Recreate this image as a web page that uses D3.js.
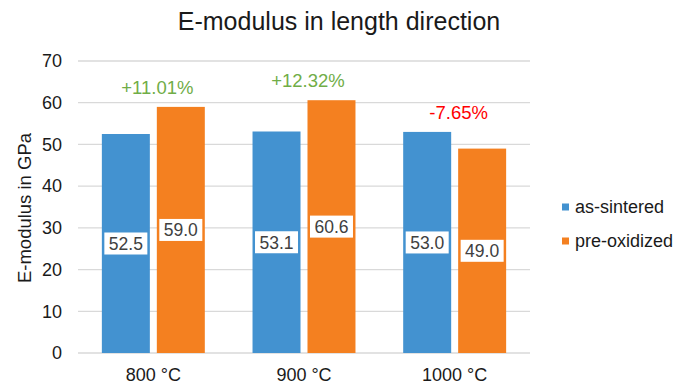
<!DOCTYPE html>
<html>
<head>
<meta charset="utf-8">
<script src="https://cdn.jsdelivr.net/npm/d3@7"></script>
<style>
  body { margin: 0; background: #fff; }
  text { font-family: "Liberation Sans", Arial, sans-serif; }
</style>
</head>
<body>
<div id="chart"></div>
<script>
"use strict"

var categories = ['800 °C', '900 °C', '1000 °C'];
var series = ['as-sintered', 'pre-oxidized'];
var asSintered = [52.5, 53.1, 53.0];
var preOxidized = [59.0, 60.6, 49.0];
var changeLabels = ['+11.01%', '+12.32%', '-7.65%'];
var yTicks = [0, 10, 20, 30, 40, 50, 60, 70];

var colors = ['#4392d0', '#f48020'];

var width = 678,
  height = 384,
  plotLeft = 78, plotRight = 530, // plot area
  plotTop = 61, plotBottom = 353;

var svg = d3.select('#chart').append('svg')
  .attr('width', width)
  .attr('height', height);

var x0 = d3.scaleBand()
  .domain(categories)
  .range([plotLeft, plotRight]);

var x1 = d3.scaleBand()
  .domain(series)
  .range([0, x0.bandwidth()])
  .paddingInner(0.127)
  .paddingOuter(0.434);

var y = d3.scaleLinear()
  .domain([0, 70])
  .range([plotBottom, plotTop]);

// gridlines
svg.append('g')
  .selectAll('line')
  .data(yTicks)
  .enter()
  .append('line')
  .attr('x1', plotLeft)
  .attr('x2', plotRight)
  .attr('y1', d => y(d))
  .attr('y2', d => y(d))
  .attr('stroke', '#d9d9d9')
  .attr('stroke-width', 1.3);

// y axis labels
var yAxis = d3.axisLeft(y).tickValues(yTicks).tickSize(0).tickPadding(16);
var yAxisGroup = svg.append('g')
  .attr('transform', 'translate(' + plotLeft + ',0)')
  .call(yAxis);
yAxisGroup.select('.domain').remove();
yAxisGroup.selectAll('text')
  .attr('font-size', 18)
  .attr('fill', '#1a1a1a')
  .style('font-family', '"Liberation Sans", Arial, sans-serif');

// x axis labels
var xAxis = d3.axisBottom(x0).tickSize(0).tickPadding(15);
var xAxisGroup = svg.append('g')
  .attr('transform', 'translate(0,' + plotBottom + ')')
  .call(xAxis);
xAxisGroup.select('.domain').remove();
xAxisGroup.selectAll('text')
  .attr('font-size', 18)
  .attr('fill', '#1a1a1a')
  .style('font-family', '"Liberation Sans", Arial, sans-serif');

var rows = categories.map((c, i) => ({ cat: c, vals: [asSintered[i], preOxidized[i]] }));

var groups = svg.append('g')
  .selectAll('g')
  .data(rows)
  .enter()
  .append('g')
  .attr('transform', d => 'translate(' + x0(d.cat) + ',0)');

var bars = groups.selectAll('g')
  .data(d => d.vals.map((v, j) => ({ s: series[j], v: v, j: j })))
  .enter()
  .append('g');

bars.append('rect')
  .attr('x', d => x1(d.s))
  .attr('y', d => y(d.v))
  .attr('width', x1.bandwidth())
  .attr('height', d => plotBottom - y(d.v))
  .attr('fill', d => colors[d.j]);

// value labels in white boxes, centred on bar
bars.append('rect')
  .attr('x', d => x1(d.s) + x1.bandwidth() / 2 - 21.5)
  .attr('y', d => (y(d.v) + plotBottom) / 2 - 11)
  .attr('width', 43)
  .attr('height', 22)
  .attr('fill', '#fff');

bars.append('text')
  .attr('x', d => x1(d.s) + x1.bandwidth() / 2)
  .attr('y', d => (y(d.v) + plotBottom) / 2)
  .attr('dy', '0.36em')
  .attr('text-anchor', 'middle')
  .attr('font-size', 17.5)
  .attr('fill', '#404040')
  .text(d => d.v.toFixed(1));

// percentage change labels
groups.append('text')
  .attr('x', x0.bandwidth() / 2 + 4)
  .attr('y', d => y(d3.max(d.vals)) - 20)
  .attr('dy', '0.36em')
  .attr('text-anchor', 'middle')
  .attr('font-size', 18.5)
  .attr('fill', (d, i) => changeLabels[i][0] === '-' ? '#ff0000' : '#70ad47')
  .text((d, i) => changeLabels[i]);

// title
svg.append('text')
  .attr('x', 339)
  .attr('y', 30)
  .attr('text-anchor', 'middle')
  .attr('font-size', 25)
  .attr('fill', '#1a1a1a')
  .text('E-modulus in length direction');

// y axis title
svg.append('text')
  .attr('transform', 'translate(31,' + ((plotTop + plotBottom) / 2 + 1) + ') rotate(-90)')
  .attr('text-anchor', 'middle')
  .attr('font-size', 18.5)
  .attr('fill', '#1a1a1a')
  .text('E-modulus in GPa');

// legend
var legend = svg.append('g')
  .selectAll('g')
  .data(series)
  .enter()
  .append('g')
  .attr('transform', (d, i) => 'translate(562,' + (207 + i * 34) + ')');

legend.append('rect')
  .attr('x', 0)
  .attr('y', -3.5)
  .attr('width', 7)
  .attr('height', 7)
  .attr('fill', (d, i) => colors[i]);

legend.append('text')
  .attr('x', 13)
  .attr('dy', '0.36em')
  .attr('font-size', 18)
  .attr('fill', '#1a1a1a')
  .text(d => d);
</script>
</body>
</html>
